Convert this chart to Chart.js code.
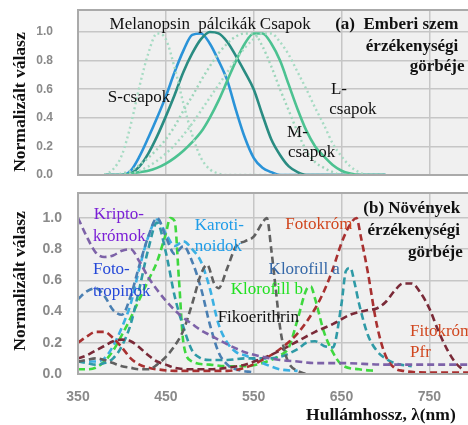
<!DOCTYPE html>
<html><head><meta charset="utf-8">
<script src="https://cdn.jsdelivr.net/npm/chart.js@4.4.0/dist/chart.umd.min.js"></script>
<style>
html,body{margin:0;padding:0;background:#fff;}
#wrap{position:relative;width:468px;height:425px;overflow:hidden;}
.box{position:absolute;left:0;width:468px;}
</style></head><body>
<div id="wrap">
<div class="box" style="top:0;height:185px"><canvas id="c1"></canvas></div>
<div class="box" style="top:185px;height:240px"><canvas id="c2"></canvas></div>
</div>
<script>
// ---------- DATA: (a) human eye ----------
const wlTop = [380,390,400,410,420,430,440,450,460,470,480,490,500,510,520,530,540,550,560,570,580,590,600,610,620,630,640,650,660,670,680,690,700];
const sCones   = [0,0.04,0.14,0.35,0.62,0.85,0.99,0.95,0.75,0.5,0.28,0.12,0.04,0.01,0,0,0,0,0,0,0,0,0,0,0,0,0,0,0,0,0,0,0];
const melanopsin = [0,0,0,0.03,0.13,0.26,0.4,0.55,0.72,0.87,0.98,0.99,0.92,0.8,0.66,0.45,0.26,0.12,0.05,0.02,0,0,0,0,0,0,0,0,0,0,0,0,0];
const rods     = [0,0,0,0.01,0.06,0.15,0.27,0.41,0.56,0.72,0.85,0.95,1.0,0.99,0.93,0.83,0.72,0.6,0.42,0.25,0.14,0.06,0.02,0,0,0,0,0,0,0,0,0,0];
const cones    = [0,0,0,0.01,0.02,0.03,0.05,0.08,0.12,0.17,0.23,0.3,0.4,0.52,0.66,0.8,0.92,0.99,0.99,0.92,0.8,0.63,0.46,0.31,0.2,0.13,0.07,0.03,0.01,0,0,0,0];
const mCones   = [0,0,0.01,0.03,0.07,0.12,0.18,0.25,0.34,0.45,0.55,0.66,0.76,0.85,0.92,0.97,0.99,0.99,0.9,0.76,0.6,0.45,0.3,0.17,0.09,0.05,0.02,0,0,0,0,0,0];
const lCones   = [0,0,0,0.01,0.03,0.06,0.1,0.15,0.21,0.28,0.36,0.45,0.54,0.63,0.72,0.81,0.89,0.95,0.99,0.99,0.93,0.84,0.72,0.6,0.47,0.35,0.22,0.13,0.06,0.02,0,0,0];

// ---------- DATA: (b) plants ----------
const kriptoWl  = [350,360,370,380,390,400,410,420,430,440,450,460,470,480,490,500,520,540,560,580,600,620,650,700,750,795];
const kriptoVal = [1.0,0.88,0.78,0.75,0.76,0.79,0.8,0.72,0.62,0.54,0.47,0.41,0.36,0.32,0.28,0.25,0.19,0.14,0.11,0.09,0.08,0.07,0.07,0.06,0.06,0.06];
const fotoWl  = [350,360,370,380,390,400,410,420,430,440,450,460,470,480,490,500,510,520,530,550];
const fotoVal = [0.48,0.53,0.55,0.5,0.41,0.38,0.5,0.7,0.88,1.0,0.88,0.77,0.82,0.72,0.55,0.32,0.14,0.06,0.03,0.01];
const caroWl  = [350,360,370,380,390,400,410,420,430,440,450,460,470,480,490,500,510,520,530,540,560,580,600];
const caroVal = [0.08,0.08,0.08,0.1,0.18,0.3,0.45,0.68,0.88,0.99,0.9,0.82,0.85,0.8,0.72,0.55,0.32,0.2,0.14,0.12,0.07,0.03,0.02];
const chlaWl  = [350,360,370,380,390,400,410,420,430,440,450,460,470,480,490,500,520,540,560,580,600,610,620,630,640,650,655,660,665,670,680,690,700,710,730];
const chlaVal = [0.08,0.07,0.06,0.07,0.1,0.18,0.32,0.55,0.8,0.97,0.78,0.5,0.3,0.15,0.1,0.09,0.09,0.1,0.1,0.11,0.16,0.2,0.21,0.18,0.17,0.45,0.66,0.68,0.58,0.45,0.25,0.15,0.1,0.07,0.05];
const chlbWl  = [350,360,370,380,390,400,410,420,430,440,450,455,460,465,470,480,500,520,540,560,580,590,600,610,615,620,630,640,650,670,690];
const chlbVal = [0.03,0.03,0.04,0.08,0.15,0.25,0.36,0.48,0.6,0.72,0.9,1.0,0.98,0.6,0.2,0.08,0.06,0.05,0.05,0.07,0.12,0.17,0.35,0.54,0.56,0.48,0.27,0.14,0.06,0.03,0.02];
const fikoWl  = [350,360,370,380,390,400,410,420,430,440,450,460,470,480,490,497,505,510,520,530,540,550,560,565,570,575,580,585,590,600,610];
const fikoVal = [0.08,0.09,0.1,0.09,0.07,0.05,0.04,0.03,0.03,0.06,0.11,0.18,0.28,0.45,0.64,0.7,0.58,0.55,0.68,0.82,0.85,0.88,0.97,1.0,0.8,0.55,0.3,0.15,0.07,0.02,0];
const prWl  = [350,360,370,380,390,400,410,420,430,440,460,480,500,520,540,560,580,600,620,630,640,650,660,667,672,680,690,700,710,720,750,795];
const prVal = [0.2,0.24,0.27,0.27,0.23,0.17,0.1,0.06,0.04,0.03,0.02,0.02,0.02,0.02,0.04,0.09,0.16,0.26,0.42,0.53,0.67,0.84,0.96,1.0,0.88,0.65,0.32,0.12,0.04,0.02,0.01,0.01];
const pfrWl  = [350,360,370,380,390,400,410,420,430,440,450,460,480,500,520,540,560,580,600,620,640,660,680,690,700,710,720,730,740,750,760,770,780,790];
const pfrVal = [0.1,0.12,0.15,0.18,0.21,0.22,0.21,0.17,0.12,0.08,0.06,0.04,0.03,0.03,0.04,0.06,0.1,0.15,0.21,0.27,0.32,0.38,0.41,0.42,0.46,0.53,0.58,0.58,0.52,0.42,0.28,0.16,0.07,0.02];

// ---------- axis ticks ----------
const xTicks = [350,450,550,650,750];
const yTicks = [0,0.2,0.4,0.6,0.8,1.0];
const xMin = 350, xMax = 794;

// ---------- text labels (data coordinates) ----------
const topLabels = [
  {t:'Melanopsin', x:386, y:1.05},
  {t:'pálcikák', x:487, y:1.05},
  {t:'Csapok', x:557, y:1.05},
  {t:'(a)  Emberi szem', x:783, y:1.05, b:1, r:1},
  {t:'érzékenységi', x:783, y:0.895, b:1, r:1},
  {t:'görbéje', x:790, y:0.755, b:1, r:1},
  {t:'S-csapok', x:384, y:0.545},
  {t:'L-', x:638, y:0.60},
  {t:'csapok', x:636, y:0.455},
  {t:'M-', x:588, y:0.30},
  {t:'csapok', x:589, y:0.155},
  {t:'Normalizált válasz', x:284.5, y:0.51, b:1, s:17.5, rot:1}
];
const bottomLabels = [
  {t:'Kripto-', x:368, y:1.02, c:'#7a1fd6'},
  {t:'krómok', x:367, y:0.88, c:'#7a1fd6'},
  {t:'Foto-', x:367, y:0.667, c:'#2448d8'},
  {t:'tropinok', x:367, y:0.53, c:'#2448d8'},
  {t:'Karoti-', x:483, y:0.95, c:'#1e9ce8'},
  {t:'noidok', x:483, y:0.814, c:'#1e9ce8'},
  {t:'Fotokróm', x:586, y:0.96, c:'#d0461e'},
  {t:'(b) Növények', x:785, y:1.06, b:1, r:1},
  {t:'érzékenységi', x:785, y:0.92, b:1, r:1},
  {t:'görbéje', x:788, y:0.78, b:1, r:1},
  {t:'Klorofill a', x:567, y:0.667, c:'#3568a8'},
  {t:'Klorofill b', x:524, y:0.54, c:'#22e022'},
  {t:'Fikoerithrin', x:509, y:0.365},
  {t:'Fitokróm', x:728, y:0.27, c:'#d0461e'},
  {t:'Pfr', x:728, y:0.14, c:'#d0461e'},
  {t:'Normalizált válasz', x:284.5, y:0.596, b:1, s:17.5, rot:1},
  {t:'Hullámhossz, λ(nm)', x:780, y:-0.263, b:1, s:17.5, r:1}
];

const pts = (wl, v) => wl.map((w, i) => ({x: w, y: v[i]}));

const panel = {
  id: 'panel',
  beforeDraw(chart) {
    const {ctx, chartArea: {left, top, right, bottom}} = chart;
    ctx.save();
    ctx.fillStyle = '#f0f0f0';
    ctx.fillRect(left, top, right - left, bottom - top);
    ctx.restore();
  },
  afterDraw(chart) {
    const {ctx, chartArea: {left, top, right, bottom}} = chart;
    ctx.save();
    ctx.strokeStyle = '#aaaaaa';
    ctx.lineWidth = 2;
    ctx.beginPath();
    ctx.moveTo(right, top); ctx.lineTo(left, top); ctx.lineTo(left, bottom); ctx.lineTo(right, bottom);
    ctx.stroke();
    ctx.restore();
  }
};

const labels = {
  id: 'labels',
  afterDraw(chart, args, opts) {
    const {ctx, scales: {x, y}} = chart;
    ctx.save();
    for (const L of opts.items) {
      ctx.font = (L.b ? 'bold ' : '') + (L.s || 17) + 'px "Liberation Serif"';
      ctx.fillStyle = L.c || '#111';
      ctx.textAlign = L.rot ? 'center' : (L.r ? 'right' : 'left');
      ctx.textBaseline = 'middle';
      const px = x.getPixelForValue(L.x), py = y.getPixelForValue(L.y);
      if (L.rot) {
        ctx.save(); ctx.translate(px, py); ctx.rotate(-Math.PI / 2);
        ctx.fillText(L.t, 0, 0); ctx.restore();
      } else {
        ctx.fillText(L.t, px, py);
      }
    }
    ctx.restore();
  }
};

function scalesFor(yMax, yFont, yPad, xShow, xHeight) {
  return {
    x: {
      type: 'linear', min: xMin, max: xMax,
      afterBuildTicks: s => { s.ticks = xTicks.map(v => ({value: v})); },
      afterFit: s => { s.height = xHeight; s.paddingLeft = 0; s.paddingRight = 0; },
      grid: {color: '#c6c6c6', lineWidth: 1.5, drawTicks: false},
      border: {display: false},
      ticks: {display: xShow, padding: 15, color: '#8a8a8a',
              font: {family: 'Liberation Sans', weight: 'bold', size: 14},
              callback: v => String(v)}
    },
    y: {
      min: 0, max: yMax,
      afterBuildTicks: s => { s.ticks = yTicks.map(v => ({value: v})); },
      afterFit: s => { s.width = 78; s.paddingTop = 0; s.paddingBottom = 0; },
      grid: {color: '#c6c6c6', lineWidth: 1.5, drawTicks: false},
      border: {display: false},
      ticks: {padding: yPad, color: '#8a8a8a',
              font: {family: 'Liberation Sans', weight: 'bold', size: yFont},
              callback: v => Number(v).toFixed(1)}
    }
  };
}

const solid = (label, wl, v, color) => ({label, data: pts(wl, v), borderColor: color, borderWidth: 2.6,
  pointRadius: 0, fill: false, cubicInterpolationMode: 'monotone'});
const dotted = (label, wl, v, color) => ({label, data: pts(wl, v), borderColor: color, borderWidth: 2.4,
  borderDash: [2, 3], pointRadius: 0, fill: false, cubicInterpolationMode: 'monotone'});
const dashed = (label, wl, v, color) => ({label, data: pts(wl, v), borderColor: color, borderWidth: 2.6,
  borderDash: [7, 4], pointRadius: 0, fill: false, cubicInterpolationMode: 'monotone'});

new Chart(document.getElementById('c1'), {
  type: 'line',
  data: {datasets: [
    dotted('S-csapok', wlTop, sCones, '#a6dbc3'),
    dotted('M-csapok', wlTop, mCones, '#9dd6bb'),
    dotted('L-csapok', wlTop, lCones, '#a6dbc3'),
    solid('Csapok', wlTop, cones, '#4cc291'),
    solid('Pálcikák', wlTop, rods, '#2a8c82'),
    solid('Melanopsin', wlTop, melanopsin, '#2a93d8')
  ]},
  options: {
    responsive: true, maintainAspectRatio: false, animation: false,
    layout: {padding: {top: 10, left: 0, right: 0, bottom: 0}},
    plugins: {legend: {display: false}, tooltip: {enabled: false}, labels: {items: topLabels}},
    scales: scalesFor(1.154, 12, 25, false, 10)
  },
  plugins: [panel, labels]
});

new Chart(document.getElementById('c2'), {
  type: 'line',
  data: {datasets: [
    dashed('Kriptokrómok', kriptoWl, kriptoVal, '#7d62a8'),
    dashed('Fikoerithrin', fikoWl, fikoVal, '#606060'),
    dashed('Fitokróm Pfr', pfrWl, pfrVal, '#7a2a38'),
    dashed('Fotokróm', prWl, prVal, '#a83030'),
    dashed('Fototropinok', fotoWl, fotoVal, '#4a7fb2'),
    dashed('Klorofill a', chlaWl, chlaVal, '#2f9aa6'),
    dashed('Karotinoidok', caroWl, caroVal, '#3bb0e2'),
    dashed('Klorofill b', chlbWl, chlbVal, '#3fd83f')
  ]},
  options: {
    responsive: true, maintainAspectRatio: false, animation: false,
    layout: {padding: {top: 8, left: 0, right: 0, bottom: 0}},
    plugins: {legend: {display: false}, tooltip: {enabled: false}, labels: {items: bottomLabels}},
    scales: scalesFor(1.16, 14, 16, true, 51)
  },
  plugins: [panel, labels]
});
</script>
</body></html>
